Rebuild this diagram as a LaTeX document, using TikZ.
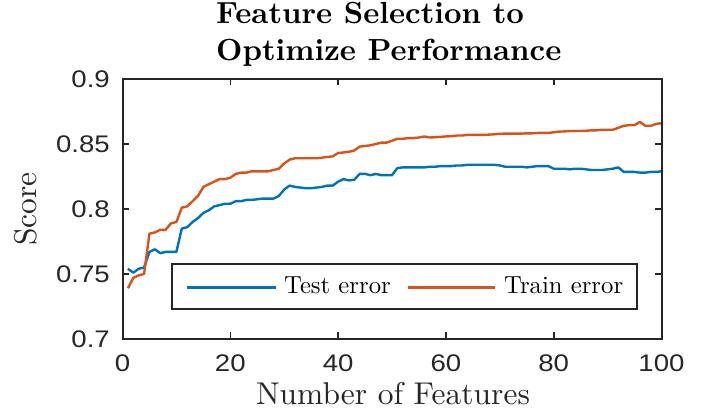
\documentclass[tikz,border=0pt]{standalone}
\usepackage{fontspec}
\setmainfont[Ligatures=TeX, BoldFont=lmroman10-bold.otf]{lmroman10-regular.otf}
\newfontfamily\tickfont[FakeStretch=1.15]{Liberation Sans}
\definecolor{mblue}{HTML}{0072BD}
\definecolor{morange}{HTML}{D95319}
\definecolor{axgray}{HTML}{262626}
\tikzset{
  axisline/.style={draw=axgray, line width=2pt},
  tickmark/.style={draw=axgray, line width=1.6pt},
  ticklab/.style={font=\tickfont\fontsize{24}{24}\selectfont, text=axgray, inner sep=0pt},
  datatest/.style={draw=mblue, line width=2.4pt, line join=round},
  datatrain/.style={draw=morange, line width=2.4pt, line join=round},
  labtext/.style={font=\fontsize{31.5}{34}\selectfont, text=axgray, inner sep=0pt},
  titletext/.style={font=\fontsize{30.5}{34}\selectfont\bfseries, inner sep=0pt},
  legtext/.style={font=\fontsize{24.7}{28}\selectfont, inner sep=0pt}
}
\begin{document}
\begin{tikzpicture}[x=1pt,y=1pt]
\useasboundingbox (0,0) rectangle (712,415);
% titles
\node[titletext, anchor=base west] (title1) at (216,391) {Feature Selection to};
\node[titletext, anchor=base west] (title2) at (216,354.5) {Optimize Performance};
% data
\begin{scope}[shift={(122.5,-834)}, x=5.39pt, y=1300pt]
\draw[datatest] plot coordinates {
(1,0.754)(2,0.751)(3,0.754)(4,0.755)(5,0.767)(6,0.769)(7,0.766)(8,0.767)(9,0.767)(10,0.767)
(11,0.785)(12,0.786)(13,0.790)(14,0.793)(15,0.797)(16,0.799)(17,0.802)(18,0.803)(19,0.804)(20,0.804)
(21,0.806)(22,0.806)(23,0.807)(24,0.807)(25,0.8075)(26,0.808)(27,0.808)(28,0.808)(29,0.810)(30,0.815)
(31,0.818)(32,0.817)(33,0.8165)(34,0.816)(35,0.816)(36,0.8165)(37,0.817)(38,0.818)(39,0.818)(40,0.821)
(41,0.823)(42,0.822)(43,0.8225)(44,0.827)(45,0.827)(46,0.826)(47,0.827)(48,0.826)(49,0.826)(50,0.826)
(51,0.8315)(52,0.832)(53,0.832)(54,0.832)(55,0.832)(56,0.832)(57,0.8325)(58,0.8325)(59,0.833)(60,0.833)
(61,0.833)(62,0.8335)(63,0.8335)(64,0.834)(65,0.834)(66,0.834)(67,0.834)(68,0.834)(69,0.834)(70,0.8335)
(71,0.8325)(72,0.8325)(73,0.8325)(74,0.8325)(75,0.832)(76,0.8325)(77,0.833)(78,0.833)(79,0.833)(80,0.831)
(81,0.831)(82,0.831)(83,0.8305)(84,0.831)(85,0.831)(86,0.8305)(87,0.830)(88,0.830)(89,0.830)(90,0.8305)
(91,0.831)(92,0.832)(93,0.8285)(94,0.8285)(95,0.8285)(96,0.828)(97,0.828)(98,0.8285)(99,0.8285)(100,0.829)};
\draw[datatrain] plot coordinates {
(1,0.739)(2,0.747)(3,0.749)(4,0.750)(5,0.781)(6,0.782)(7,0.784)(8,0.784)(9,0.789)(10,0.790)
(11,0.801)(12,0.802)(13,0.806)(14,0.810)(15,0.817)(16,0.819)(17,0.821)(18,0.823)(19,0.823)(20,0.824)
(21,0.827)(22,0.828)(23,0.828)(24,0.829)(25,0.829)(26,0.829)(27,0.829)(28,0.830)(29,0.831)(30,0.835)
(31,0.838)(32,0.839)(33,0.839)(34,0.839)(35,0.839)(36,0.839)(37,0.8395)(38,0.840)(39,0.8405)(40,0.843)
(41,0.8435)(42,0.844)(43,0.845)(44,0.848)(45,0.8485)(46,0.849)(47,0.850)(48,0.851)(49,0.851)(50,0.8525)
(51,0.854)(52,0.854)(53,0.8545)(54,0.8545)(55,0.855)(56,0.8558)(57,0.855)(58,0.8552)(59,0.8555)(60,0.8558)
(61,0.856)(62,0.8565)(63,0.8565)(64,0.857)(65,0.857)(66,0.857)(67,0.857)(68,0.8572)(69,0.8575)(70,0.8578)
(71,0.858)(72,0.858)(73,0.858)(74,0.858)(75,0.8582)(76,0.8582)(77,0.8585)(78,0.8585)(79,0.8585)(80,0.859)
(81,0.8595)(82,0.8597)(83,0.860)(84,0.860)(85,0.860)(86,0.8602)(87,0.8605)(88,0.8605)(89,0.861)(90,0.861)
(91,0.861)(92,0.8625)(93,0.864)(94,0.8645)(95,0.8645)(96,0.867)(97,0.864)(98,0.864)(99,0.8655)(100,0.866)};
\end{scope}
% axes frame
\coordinate (ll) at (122.5,76);
\coordinate (ur) at (661.5,336);
\draw[axisline] (ll) rectangle (ur);
% ticks
\foreach \i/\xv in {0/122.5,20/230.3,40/338.1,60/445.9,80/553.7,100/661.5}{
  \draw[tickmark] (\xv,76) -- ++(0,6.5);
  \draw[tickmark] (\xv,336) -- ++(0,-6.5);
  \node[ticklab, anchor=north] (xt\i) at (\xv,60) {\i};
}
\foreach \n/\lab/\yv in {a/0.7/76,b/0.75/141,c/0.8/206,d/0.85/271,e/0.9/336}{
  \draw[tickmark] (122.5,\yv) -- ++(6.5,0);
  \draw[tickmark] (661.5,\yv) -- ++(-6.5,0);
  \node[ticklab, anchor=east] (yt\n) at (110,\yv) {\lab};
}
% axis labels
\node[labtext, anchor=base] (xlab) at (393,11) {Number of Features};
\node[labtext, rotate=90] (ylab) at (26,206) {Score};
% legend
\node[draw=axgray, fill=white, line width=1.6pt, minimum width=465pt, minimum height=45pt, anchor=south west, inner sep=0pt] (leg) at (171,105) {};
\coordinate (l1a) at (187,127.5);
\coordinate (l1b) at (276,127.5);
\draw[datatest] (l1a) -- (l1b);
\node[legtext, anchor=base west] (legt1) at (284,121.7) {Test error};
\coordinate (l2a) at (408,127.5);
\coordinate (l2b) at (495,127.5);
\draw[datatrain] (l2a) -- (l2b);
\node[legtext, anchor=base west] (legt2) at (504,121.7) {Train error};
\end{tikzpicture}
\end{document}
